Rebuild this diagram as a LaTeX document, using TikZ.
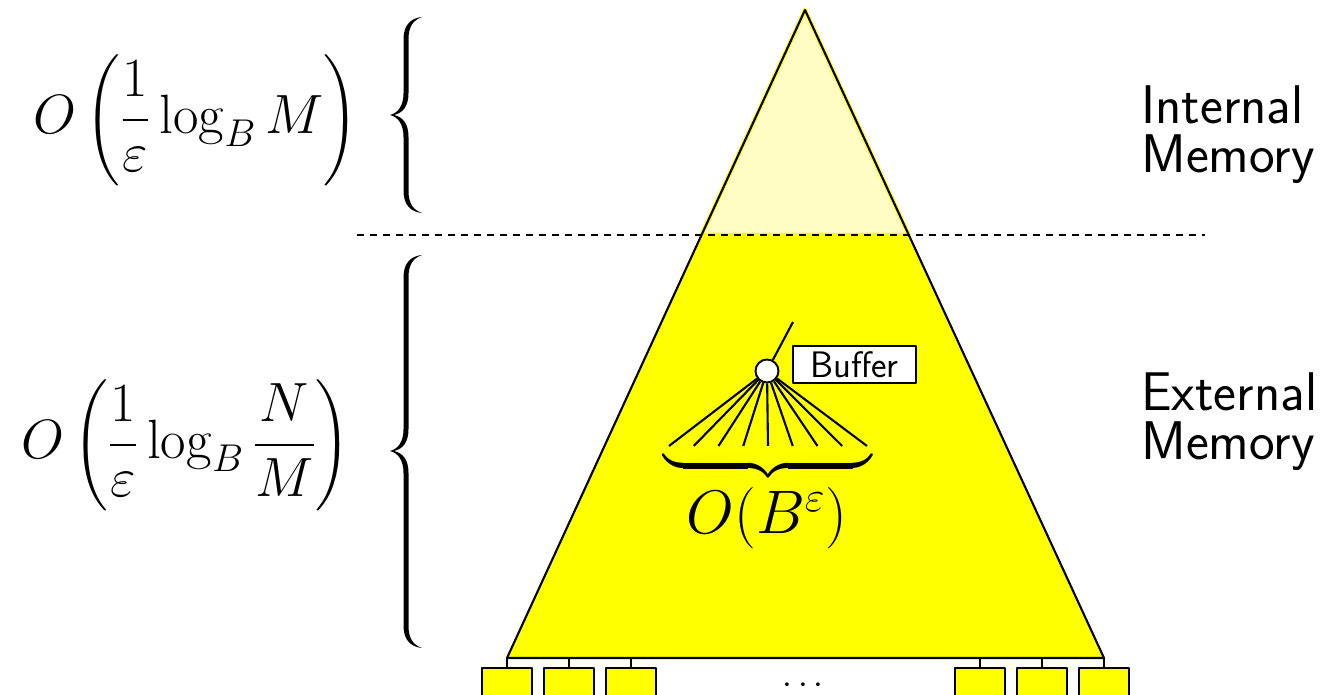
\RequirePackage{fix-cm}
\documentclass[tikz,border=0pt]{standalone}
\usepackage{amsmath}
\definecolor{lighty}{RGB}{255,253,195}
\definecolor{ylw}{RGB}{255,255,0}
\newcommand{\sidebrace}[3]{%
  \fill (422,#1)
    .. controls (411,#1+1) and (403.5,#1+8) .. (403.5,#1+22)
    -- (403.5,#2-22)
    .. controls (403.5,#2-9) and (398,#2-2) .. (390,#2)
    .. controls (398,#2+2) and (403.5,#2+9) .. (403.5,#2+22)
    -- (403.5,#3-22)
    .. controls (403.5,#3-8) and (411,#3-1) .. (422,#3)
    .. controls (413,#3-3) and (408.5,#3-10) .. (408.5,#3-22)
    -- (408.5,#2+22)
    .. controls (408.5,#2+9) and (403,#2+2) .. (394,#2)
    .. controls (403,#2-2) and (408.5,#2-9) .. (408.5,#2-22)
    -- (408.5,#1+22)
    .. controls (408.5,#1+10) and (413,#1+3) .. (422,#1)
    -- cycle;}
\begin{document}
\begin{tikzpicture}[x=0.02cm,y=-0.02cm,line join=round,
  edge/.style={line width=1.2pt},
  leafbox/.style={draw,line width=1.1pt,fill=ylw,minimum width=1cm,minimum height=0.64cm,inner sep=0pt},
  sidelabel/.style={anchor=base west,inner sep=0pt,font=\sffamily\fontsize{31}{34}\selectfont},
  bracelabel/.style={inner sep=0pt}]
\useasboundingbox (0,0) rectangle (1320,695);
% triangle
\coordinate (apex) at (805,10);
\coordinate (bl) at (507,658);
\coordinate (br) at (1104,658);
\coordinate (cl) at (701.5,235);
\coordinate (cr) at (908.8,235);
\fill[ylw] (cl) -- (bl) -- (br) -- (cr) -- cycle;
\filldraw[fill=lighty,draw=ylw,line width=2.4pt] (apex) -- (cl) -- (cr) -- cycle;
\draw[edge] (apex) -- (bl) -- (br) -- cycle;
% dashed separator
\coordinate (dl) at (357,235);
\coordinate (dr) at (1205,235);
\draw[line width=1.3pt,dash pattern=on 4.2pt off 3.2pt] (dl) -- (dr);
% buffer node and fan
\node[circle,draw,fill=white,line width=1.1pt,minimum size=0.46cm,inner sep=0pt] (buf) at (767,371) {};
\coordinate (up) at (793,322);
\draw[edge] (buf) -- (up);
\node[draw,fill=white,line width=1.1pt,minimum width=2.46cm,minimum height=0.74cm,inner sep=0pt,
  font=\sffamily\fontsize{21}{24}\selectfont] (buftext) at (854.5,364.5) {Buffer};
\foreach \i in {0,...,8}{
  \coordinate (f\i) at ({669+24.75*\i},446);
  \draw[edge] (buf) -- (f\i);
}
% underbrace and label
\node[bracelabel] (ub) at (768,466) {\fontsize{36}{40}\selectfont$\underbrace{\hbox to 119pt{}}$};
\node[bracelabel] (ob) at (767,518) {\fontsize{35}{40}\selectfont$O(B^{\varepsilon})$};
% left braces
\sidebrace{17}{115}{213}
\sidebrace{255}{451}{648}
% left labels
\node[bracelabel] (l1) at (196,120) {\fontsize{31.5}{36}\selectfont$\displaystyle O\left(\frac{1}{\varepsilon}\log_B M\right)$};
\node[bracelabel] (l2) at (186,445) {\fontsize{31.5}{36}\selectfont$\displaystyle O\left(\frac{1}{\varepsilon}\log_B \frac{N}{M}\right)$};
% right labels
\node[sidelabel] (int1) at (1141,124) {Internal};
\node[sidelabel] (int2) at (1141,173) {Memory};
\node[sidelabel] (ext1) at (1141,411) {External};
\node[sidelabel] (ext2) at (1141,460) {Memory};
% leaves
\foreach \x/\n in {507/1,569/2,631/3,980/4,1042/5,1104/6}{
  \coordinate (s\n) at (\x,658);
  \node[leafbox] (leaf\n) at (\x,684) {};
  \draw[line width=0.8pt] (s\n) -- (leaf\n.north);
}
\node[bracelabel] (dots) at (806,686) {\fontsize{20}{24}\selectfont$\cdots$};
\end{tikzpicture}
\end{document}
